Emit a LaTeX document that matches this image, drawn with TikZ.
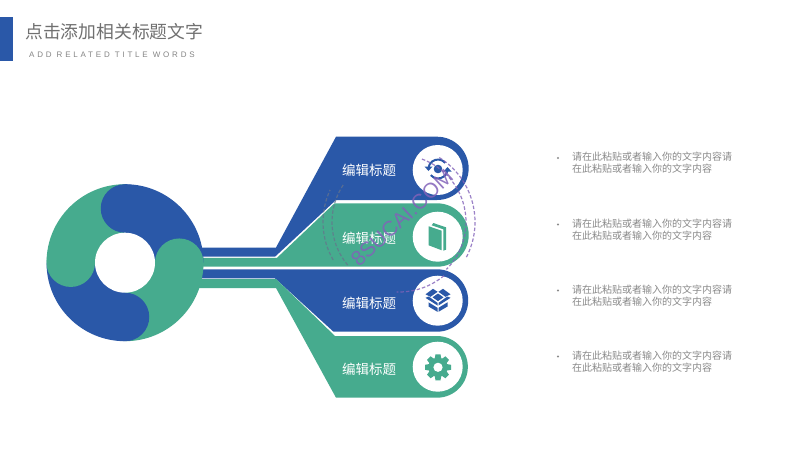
\documentclass[tikz,border=0pt]{standalone}
\usepackage{fontspec}
\usepackage{xcolor}
\setmainfont{Noto Sans CJK SC}
\newfontfamily\latinfont[LetterSpace=35]{Liberation Sans}
\newfontfamily\markfont{Liberation Sans}
\usetikzlibrary{positioning}
\definecolor{cblue}{RGB}{42,88,168}
\definecolor{cgreen}{RGB}{70,171,142}
\definecolor{cgraytext}{RGB}{112,112,112}
\definecolor{cbody}{RGB}{138,138,138}
\definecolor{cpurple}{RGB}{130,98,185}

\begin{document}
\begin{tikzpicture}[x=1pt, y=-1pt,
    % Fills
    fblue/.style={fill=cblue},
    fgreen/.style={fill=cgreen},
    % Text styles
    tag/.style={font=\fontsize{13.5}{14}\selectfont, text=white, inner sep=0pt, anchor=west},
    body/.style={font=\fontsize{10}{12}\selectfont, text=cbody, inner sep=0pt, anchor=north west, align=left},
    dot/.style={circle, fill=cbody, inner sep=0pt, minimum size=2.4pt},
    badge/.style={circle, fill=white, minimum size=50pt, inner sep=0pt},
    % Stamp
    stamp/.style={dashed, dash pattern=on 3.5pt off 2pt, line width=1.2pt, draw=cpurple, opacity=.8},
    stampgray/.style={dashed, dash pattern=on 3.5pt off 2pt, line width=1.2pt, draw=gray!70!cblue, opacity=.75},
  ]
  \useasboundingbox[fill=white] (0,0) rectangle (800,450);

  % ===== HEADER =====
  \fill[fblue] (0,17) rectangle (12.5,61);
  \node[inner sep=0pt, anchor=west, font=\fontsize{17.8}{18}\selectfont, text=cgraytext]
    (title) at (25,32) {点击添加相关标题文字};
  \node[inner sep=0pt, anchor=west, font=\latinfont\fontsize{8}{9}\selectfont, text=cgraytext!85]
    (subtitle) at (29,55) {ADD RELATED TITLE WORDS};

  % ===== RIGHT: Four tabs with stems =====
  \fill[fblue] (195,247.5) -- (276,247.5) -- (336,136.7) -- (437,136.7)
    arc[start angle=-90, end angle=90, radius=31.65] -- (336,200) -- (275,256.7) -- (195,256.7) -- cycle;
  \fill[fgreen] (195,257.8) -- (277,257.8) -- (334.5,203.3) -- (437,203.3)
    arc[start angle=-90, end angle=90, radius=31.7] -- (195,266.7) -- cycle;
  \fill[fblue] (195,269.3) -- (437,269.3)
    arc[start angle=-90, end angle=90, radius=31.2] -- (333.5,331.7) -- (275,278.3) -- (195,278.3) -- cycle;
  \fill[fgreen] (195,279) -- (276,279) -- (335,336) -- (437,336)
    arc[start angle=-90, end angle=90, radius=30.85] -- (336,397.7) -- (276,288) -- (195,288) -- cycle;

  % ===== LEFT: Ring =====
  \begin{scope}[shift={(125,262.7)}]
    \fill[fblue] (0,0) -- (0,-78.5) arc[start angle=-90, end angle=0, radius=78.5] -- cycle;
    \fill[fgreen] (0,0) -- (78.5,0) arc[start angle=0, end angle=90, radius=78.5] -- cycle;
    \fill[fblue] (0,0) -- (0,78.5) arc[start angle=90, end angle=180, radius=78.5] -- cycle;
    \fill[fgreen] (0,0) -- (-78.5,0) arc[start angle=180, end angle=270, radius=78.5] -- cycle;
    % Round lobes
    \fill[fblue] (0,-54.25) circle[radius=24.25];
    \fill[fgreen] (54.25,0) circle[radius=24.25];
    \fill[fblue] (0,54.25) circle[radius=24.25];
    \fill[fgreen] (-54.25,0) circle[radius=24.25];
    \fill[white] (0,0) circle[radius=30];
  \end{scope}

  % ===== Tab labels =====
  \node[tag] (tagA) at (342,170) {编辑标题};
  \node[tag] (tagB) at (342,238) {编辑标题};
  \node[tag] (tagC) at (342,303) {编辑标题};
  \node[tag] (tagD) at (342,369) {编辑标题};

  % ===== Icon badges =====
  \node[badge] (badgeA) at (437.7,170) {};
  \node[badge] (badgeB) at (437.7,236.7) {};
  \node[badge] (badgeC) at (437.7,300.7) {};
  \node[badge] (badgeD) at (437.7,366.7) {};

  % Sync icon
  \begin{scope}[shift={(438,169)}]
    \fill[fblue] (0,0) circle[radius=4.3];
    \draw[cblue, line width=2pt] (-9.5,-1) arc[start angle=186, end angle=320, radius=9.5];
    \draw[cblue, line width=2pt] (9.5,1) arc[start angle=6, end angle=140, radius=9.5];
    \fill[fblue] (-13.5,-2.5) -- (-5.5,-2.5) -- (-9.5,2) -- cycle;
    \fill[fblue] (13.5,2.5) -- (5.5,2.5) -- (9.5,-2) -- cycle;
  \end{scope}

  % Book icon
  \fill[fgreen] (428.7,226.3) -- (441.7,230.7) -- (441.7,250.3) -- (428.7,245.3) -- cycle;
  \fill[fgreen] (433.3,223) -- (446,227.3) -- (446,249.7) -- (443.3,250.7) -- (443.3,229.3) -- (431.7,225.3) -- cycle;

  % Box icon
  \begin{scope}[shift={(438,300.3)}]
    \fill[fblue] (-12.5,-6) -- (-5,-11.5) -- (-0.4,-8.5) -- (-7.5,-3.5) -- cycle;
    \fill[fblue] (12.5,-6) -- (5,-11.5) -- (0.4,-8.5) -- (7.5,-3.5) -- cycle;
    \fill[fblue] (-5.5,-3) -- (0,-6.8) -- (5.5,-3) -- (0,0.8) -- cycle;
    \fill[fblue] (-12.5,-2.5) -- (-9,-0.2) -- (-0.5,5.2) -- (-0.5,2.6) -- (-9.3,-3.8) -- cycle;
    \fill[fblue] (12.5,-2.5) -- (9,-0.2) -- (0.5,5.2) -- (0.5,2.6) -- (9.3,-3.8) -- cycle;
    \fill[fblue] (-9.5,2) -- (-0.5,7.5) -- (-0.5,11.5) -- (-9.5,6.2) -- cycle;
    \fill[fblue] (9.5,2) -- (0.5,7.5) -- (0.5,11.5) -- (9.5,6.2) -- cycle;
  \end{scope}

  % Gear icon
  \begin{scope}[shift={(438,367.3)}]
    \fill[fgreen] (0,0) circle[radius=9.6];
    \foreach \a in {0,45,...,315} {
      \fill[fgreen, rotate=\a] (-3.4,-8) -- (-2.5,-13) -- (2.5,-13) -- (3.4,-8) -- cycle;
    }
    \fill[white] (0,0) circle[radius=4.6];
  \end{scope}

  % ===== Body text =====
  \node[dot] (dotA) at (558,158) {};
  \node[dot] (dotB) at (558,224.5) {};
  \node[dot] (dotC) at (558,290.5) {};
  \node[dot] (dotD) at (558,356.5) {};
  \node[body] (textA) at (572,152) {请在此粘贴或者输入你的文字内容请\\在此粘贴或者输入你的文字内容};
  \node[body] (textB) at (572,218.5) {请在此粘贴或者输入你的文字内容请\\在此粘贴或者输入你的文字内容};
  \node[body] (textC) at (572,285) {请在此粘贴或者输入你的文字内容请\\在此粘贴或者输入你的文字内容};
  \node[body] (textD) at (572,351) {请在此粘贴或者输入你的文字内容请\\在此粘贴或者输入你的文字内容};

  % ===== Stamp on top =====
  \coordinate (stampc) at (399,222);
  \draw[stamp] (stampc) ++(-58:76) arc[start angle=-58, end angle=28, radius=76];
  \draw[stamp] (stampc) ++(-70:67) arc[start angle=-70, end angle=45, radius=67];
  \draw[stamp] (stampc) ++(50:70) arc[start angle=50, end angle=92, radius=70];
  \draw[stampgray] (stampc) ++(150:76) arc[start angle=150, end angle=205, radius=76];
  \draw[stampgray] (stampc) ++(140:67) arc[start angle=140, end angle=215, radius=67];
  \node[rotate=43, inner sep=0pt, text=cpurple, opacity=.85, font=\markfont\fontsize{21}{22}\selectfont]
    (stamptext) at (402,218) {8SUCAI.COM};
\end{tikzpicture}
\end{document}
